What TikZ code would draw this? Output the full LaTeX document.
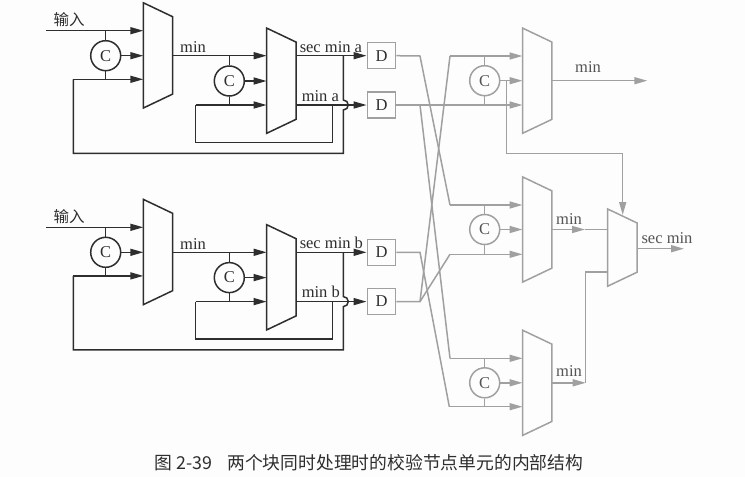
\documentclass[tikz,border=0pt]{standalone}
\usepackage{fontspec}
\setmainfont{Liberation Serif}
\newfontfamily\cjk{Noto Sans CJK SC}
\usetikzlibrary{arrows.meta,calc}
\definecolor{inkdark}{HTML}{2E2E2E}
\definecolor{inkgray}{HTML}{A0A0A0}
\definecolor{txtgray}{HTML}{555555}
\definecolor{paper}{HTML}{FDFDFD}
% selector block: named box with its slanted outline on top
\newcommand{\muxnode}[5][]{
    \node[muxbox, minimum height=#5pt] (#2) at (#3,#4) {};
    \draw[#1] (#2.north west) -- ($(#2.north east)+(0,14)$) -- ($(#2.south east)+(0,-14)$) -- (#2.south west) -- cycle;
}
\begin{document}
\begin{tikzpicture}[
        x=1pt, y=-1pt,
        >={Triangle[length=13pt,width=7pt]},
        line width=1.5pt,
        muxbox/.style={rectangle, minimum width=29.4pt, inner sep=0pt, outer sep=0pt},
        cmpbox/.style={draw, circle, minimum size=30pt, inner sep=0pt, font=\fontsize{16.5}{18}\selectfont},
        dbox/.style={draw=inkgray, rectangle, minimum width=28.4pt, minimum height=26pt, inner sep=0pt, font=\fontsize{16.5}{18}\selectfont, text=inkdark},
        lbl/.style={font=\fontsize{16.5}{18}\selectfont, inner sep=0pt},
        dark/.style={draw=inkdark, text=inkdark},
        pale/.style={draw=inkgray, text=txtgray}
    ]
        \useasboundingbox[fill=paper] (0,0) rectangle (745,477);

        % two input blocks, each with two compare stages
        \foreach \blk/\dy in {a/0, b/196.6} {
            \begin{scope}[shift={(0,\dy)}]
                \coordinate (in\blk) at (46,30.7);
                \coordinate (low\blk) at (73.3,79.3);
                \coordinate (lowb\blk) at (195.7,105);
                \muxnode[dark]{muxl\blk}{158}{55.4}{105.3}
                \muxnode[dark]{muxr\blk}{281.3}{80.7}{105.3}
                \node[cmpbox, dark] (cl\blk) at (105.7,55.7) {C};
                \node[cmpbox, dark] (cr\blk) at (229.3,81) {C};
                \node[dbox] (dhi\blk) at (381.5,55.7) {D};
                \node[dbox] (dlo\blk) at (381.5,105) {D};
                \node[lbl, text=inkdark] (lin\blk) at (69,20) {\cjk\fontsize{15.5}{18}\selectfont 输入};
                \node[lbl, text=inkdark] (lmin\blk) at (193,47.5) {min};
                \node[lbl, text=inkdark, anchor=base west] (lsec\blk) at (299,52) {sec min \blk};
                \node[lbl, text=inkdark, anchor=base west] (llow\blk) at (301,101) {min \blk};
                \coordinate (hopb\blk) at (343.3,110);
                \coordinate (hopt\blk) at (343.3,100);

                % first stage
                \draw[dark, ->] (in\blk) -- (in\blk -| muxl\blk.west);
                \draw[dark] (cl\blk.north) -- (cl\blk.north |- in\blk);
                \draw[dark, ->] (cl\blk.east) -- (cl\blk.east -| muxl\blk.west);
                \draw[dark, ->] (low\blk) -- (low\blk -| muxl\blk.west);
                \draw[dark] (cl\blk.south) -- (cl\blk.south |- low\blk);
                \draw[dark] (low\blk) -- ++(0,74) -| (hopb\blk) arc (-90:90:5pt) -- (dhi\blk.west -| hopt\blk);

                % second stage
                \draw[dark, ->] (muxl\blk.east |- dhi\blk.west) -- (dhi\blk.west -| muxr\blk.west);
                \draw[dark] (cr\blk.north) -- (cr\blk.north |- dhi\blk.west);
                \draw[dark, ->] (cr\blk.east) -- (cr\blk.east -| muxr\blk.west);
                \draw[dark, ->] (lowb\blk) -- (lowb\blk -| muxr\blk.west);
                \draw[dark] (cr\blk.south) -- (cr\blk.south |- lowb\blk);
                \draw[dark] (lowb\blk) -- ++(0,37.3) -| (332.7,105);

                % outputs into the delay boxes
                \draw[dark, ->] (muxr\blk.east |- dhi\blk.west) -- (dhi\blk.west);
                \draw[dark, ->] (muxr\blk.east |- dlo\blk.west) -- (dlo\blk.west);
            \end{scope}
        }

        % compare units on the right
        \foreach \mx/\yc in {t/80.7, m/229.5, d/382.8} {
            \muxnode[pale]{mux\mx}{537.2}{\yc}{105.3}
            \node[cmpbox, pale] (c\mx) at (484.7,\yc) {C};
        }
        \muxnode[pale]{muxs}{622.3}{247.6}{77.3}

        % crossing wires between delay boxes and compare units
        \coordinate (ttop) at (450,56);
        \coordinate (tlow) at (450,105);
        \coordinate (mtop) at (450,205);
        \coordinate (mlow) at (450,254.3);
        \coordinate (dtop) at (450,358.3);
        \coordinate (dlow) at (449.3,406.7);
        \coordinate (cola) at (420,56);
        \coordinate (colb) at (420,105);
        \coordinate (colc) at (420,252.3);
        \coordinate (cold) at (420,301.6);
        \draw[pale] (dhia.east) -- (cola) -- (mtop);
        \draw[pale] (colb) -- (dtop);
        \draw[pale] (dhib.east) -- (colc) -- (dlow);
        \draw[pale] (dlob.east) -- (cold) -- (ttop);
        \draw[pale] (cold) -- (mlow);

        \draw[pale, ->] (ttop) -- (ttop -| muxt.west);
        \draw[pale, ->] (dloa.east) -- (dloa.east -| muxt.west);
        \draw[pale, ->] (mtop) -- (mtop -| muxm.west);
        \draw[pale, ->] (mlow) -- (mlow -| muxm.west);
        \draw[pale, ->] (dtop) -- (dtop -| muxd.west);
        \draw[pale, ->] (dlow) -- (dlow -| muxd.west);

        \draw[pale] (ct.north) -- (ct.north |- ttop);
        \draw[pale] (ct.south) -- (ct.south |- tlow);
        \draw[pale] (cm.north) -- (cm.north |- mtop);
        \draw[pale] (cm.south) -- (cm.south |- mlow);
        \draw[pale] (cd.north) -- (cd.north |- dtop);
        \draw[pale] (cd.south) -- (cd.south |- dlow);
        \foreach \mx in {t, m, d} {
            \draw[pale, ->] (c\mx.east) -- (c\mx.east -| mux\mx.west);
        }

        % outputs to the last stage
        \coordinate (outt) at (647.3,80.7);
        \coordinate (outs) at (684,248.7);
        \coordinate (bendt) at (506.7,80.7);
        \coordinate (tipm) at (585,229.5);
        \coordinate (bendd) at (585.7,382.8);
        \coordinate (tops) at (622.7,215);
        \draw[pale, ->] (muxt.east) -- (outt);
        \draw[pale, ->] (bendt) -- (506.7,153.3) -| (tops);
        \draw[pale, ->] (muxm.east) -- (tipm);
        \draw[pale] (tipm) -- (tipm -| muxs.west);
        \draw[pale, ->] (muxd.east) -- (bendd);
        \draw[pale] (bendd) -- (585.7,272) -- (607.6,272);
        \draw[pale, ->] (muxs.east |- outs) -- (outs);

        \node[lbl, text=txtgray] (lmint) at (588,67) {min};
        \node[lbl, text=txtgray] (lminm) at (569,218.7) {min};
        \node[lbl, text=txtgray] (lmind) at (569,371.3) {min};
        \node[lbl, text=txtgray] (lsecs) at (667,237.7) {sec min};

        \node[lbl, text=inkdark] (caption) at (369,463) {\cjk\fontsize{17.8}{20}\selectfont 图\hspace{4pt}2-39\hspace{15pt}两个块同时处理时的校验节点单元的内部结构};
\end{tikzpicture}
\end{document}
